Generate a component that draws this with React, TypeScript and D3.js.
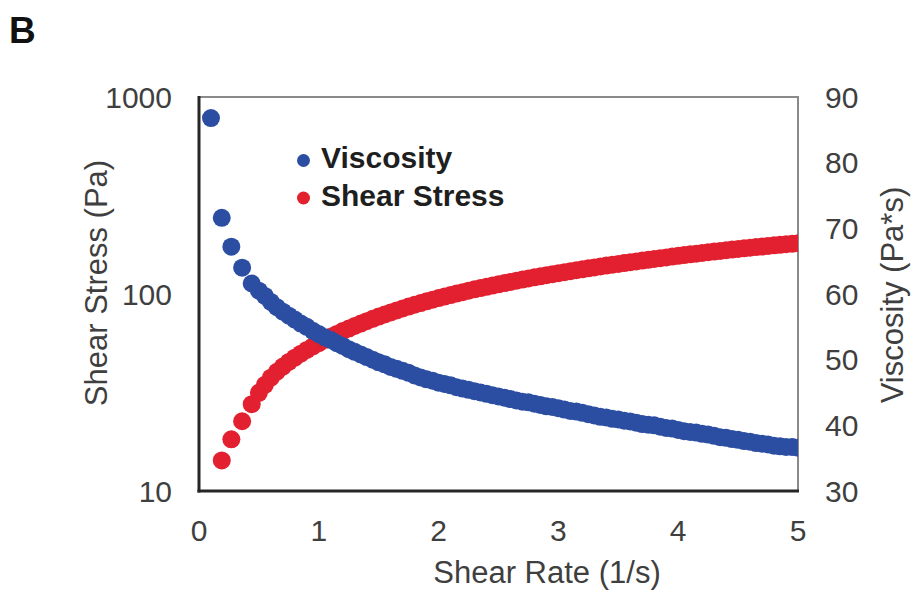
import React from "react";
import * as d3 from "d3";

const shearRate = [
  0.1, 0.19, 0.27, 0.36, 0.44,
  0.5, 0.55, 0.6, 0.65, 0.7, 0.75, 0.8, 0.85, 0.9, 0.95,
  1.0, 1.05, 1.1, 1.15, 1.2, 1.25, 1.3, 1.35, 1.4, 1.45,
  1.5, 1.55, 1.6, 1.65, 1.7, 1.75, 1.8, 1.85, 1.9, 1.95,
  2.0, 2.05, 2.1, 2.15, 2.2, 2.25, 2.3, 2.35, 2.4, 2.45,
  2.5, 2.55, 2.6, 2.65, 2.7, 2.75, 2.8, 2.85, 2.9, 2.95,
  3.0, 3.05, 3.1, 3.15, 3.2, 3.25, 3.3, 3.35, 3.4, 3.45,
  3.5, 3.55, 3.6, 3.65, 3.7, 3.75, 3.8, 3.85, 3.9, 3.95,
  4.0, 4.05, 4.1, 4.15, 4.2, 4.25, 4.3, 4.35, 4.4, 4.45,
  4.5, 4.55, 4.6, 4.65, 4.7, 4.75, 4.8, 4.85, 4.9, 4.95, 5.0,
];

const viscosity = [
  86.8, 71.6, 67.2, 64.0, 61.6,
  60.5, 59.7, 58.8, 58.0, 57.3, 56.7, 56.1, 55.5, 55.0, 54.4,
  53.9, 53.4, 53.0, 52.5, 52.1, 51.6, 51.2, 50.8, 50.4, 50.0,
  49.6, 49.3, 48.9, 48.6, 48.3, 48.0, 47.6, 47.3, 47.0, 46.8,
  46.5, 46.3, 46.1, 45.8, 45.6, 45.4, 45.2, 45.0, 44.8, 44.6,
  44.4, 44.2, 44.0, 43.8, 43.6, 43.5, 43.3, 43.1, 42.9, 42.8,
  42.6, 42.4, 42.2, 42.1, 41.9, 41.7, 41.5, 41.3, 41.2, 41.0,
  40.9, 40.7, 40.6, 40.4, 40.2, 40.1, 40.0, 39.8, 39.6, 39.5,
  39.3, 39.1, 39.0, 38.9, 38.7, 38.6, 38.4, 38.2, 38.1, 37.9,
  37.8, 37.6, 37.5, 37.3, 37.2, 37.1, 36.9, 36.8, 36.7, 36.7, 36.6,
];

const shearStress = [
  8.7, 14.3, 18.3, 22.6, 27.6,
  31.5, 34.6, 37.6, 40.3, 42.8, 45.2, 47.5, 49.8, 52.0, 54.2,
  56.3, 58.5, 60.6, 62.7, 64.8, 66.8, 68.8, 70.8, 72.8, 74.8,
  76.8, 78.7, 80.6, 82.5, 84.4, 86.3, 88.2, 90.0, 91.8, 93.6,
  95.4, 97.1, 98.8, 100.5, 102.2, 103.9, 105.6, 107.2, 108.8, 110.4,
  112.0, 113.6, 115.2, 116.8, 118.4, 120.0, 121.5, 123.0, 124.5, 126.0,
  127.5, 129.0, 130.5, 132.0, 133.5, 135.0, 136.5, 138.0, 139.4, 140.8,
  142.2, 143.6, 145.0, 146.4, 147.8, 149.2, 150.6, 152.0, 153.4, 154.8,
  156.2, 157.6, 159.0, 160.3, 161.6, 162.9, 164.2, 165.5, 166.8, 168.1,
  169.4, 170.6, 171.8, 173.0, 174.2, 175.4, 176.6, 177.8, 179.0, 180.0, 181.0,
];

const xTicks = [0, 1, 2, 3, 4, 5];
const leftTicks = [10, 100, 1000];
const rightTicks = [30, 40, 50, 60, 70, 80, 90];
const legendItems = ["Viscosity", "Shear Stress"];

const BLUE = "#2b4ea2";
const RED = "#e2202f";
const FONT = "'Liberation Sans', Arial, sans-serif";

export default function App() {
  const W = 913;
  const H = 597;
  const L = 199, R = 798, T = 97, B = 491;

  const x = d3.scaleLinear().domain([0, 5]).range([L, R]);
  const yL = d3.scaleLog().domain([10, 1000]).range([B, T]);
  const yR = d3.scaleLinear().domain([30, 90]).range([B, T]);

  const textCol = "#3f3f3f";

  return (
    <svg
      width={W}
      height={H}
      style={{ position: "absolute", left: 0, top: 0, background: "#fff" }}
      fontFamily={FONT}
    >
      <defs>
        <clipPath id="plotClip">
          <rect x={L} y={T} width={R - L} height={B - T} />
        </clipPath>
      </defs>
      <rect x={0} y={0} width={W} height={H} fill="#fff" />

      <text x={9} y={43} fontSize={37} fontWeight="bold" fill="#111">B</text>

      {/* frame */}
      <rect x={L} y={T} width={R - L} height={B - T} fill="none" stroke="#8a8a8a" strokeWidth={2} />

      {/* series */}
      <g clipPath="url(#plotClip)">
        {shearRate.map((r, i) => (
          <circle key={"s" + i} cx={x(r)} cy={yL(shearStress[i])} r={9} fill={RED} />
        ))}
        {shearRate.map((r, i) => (
          <circle key={"v" + i} cx={x(r)} cy={yR(viscosity[i])} r={9} fill={BLUE} />
        ))}
      </g>

      {/* axis lines */}
      <line x1={L} y1={T - 1} x2={L} y2={B + 1.5} stroke="#262626" strokeWidth={3} />
      <line x1={L - 1.5} y1={B} x2={R + 1} y2={B} stroke="#262626" strokeWidth={3} />

      {/* x tick labels */}
      {xTicks.map((t) => (
        <text key={"x" + t} x={x(t)} y={541} fontSize={30} fill={textCol} textAnchor="middle">
          {t}
        </text>
      ))}
      {/* left tick labels */}
      {leftTicks.map((t) => (
        <text key={"l" + t} x={172} y={yL(t)} dy="0.35em" fontSize={30} fill={textCol} textAnchor="end">
          {t}
        </text>
      ))}
      {/* right tick labels */}
      {rightTicks.map((t) => (
        <text key={"r" + t} x={825} y={yR(t)} dy="0.35em" fontSize={30} fill={textCol} textAnchor="start">
          {t}
        </text>
      ))}

      {/* axis titles */}
      <text x={547} y={583} fontSize={31} fill={textCol} textAnchor="middle">Shear Rate (1/s)</text>
      <text
        transform={`translate(107,283) rotate(-90)`}
        fontSize={31}
        fill={textCol}
        textAnchor="middle"
      >
        Shear Stress (Pa)
      </text>
      <text
        transform={`translate(903,295) rotate(-90)`}
        fontSize={31}
        fill={textCol}
        textAnchor="middle"
      >
        Viscosity (Pa*s)
      </text>

      {/* legend */}
      {legendItems.map((name, i) => (
        <g key={name} transform={`translate(0,${160.5 + i * 37.5})`}>
          <circle cx={303.5} cy={0} r={6.5} fill={i === 0 ? BLUE : RED} />
          <text x={321} y={7.5} fontSize={30} fontWeight="bold" fill="#1f1f1f">
            {name}
          </text>
        </g>
      ))}
    </svg>
  );
}
